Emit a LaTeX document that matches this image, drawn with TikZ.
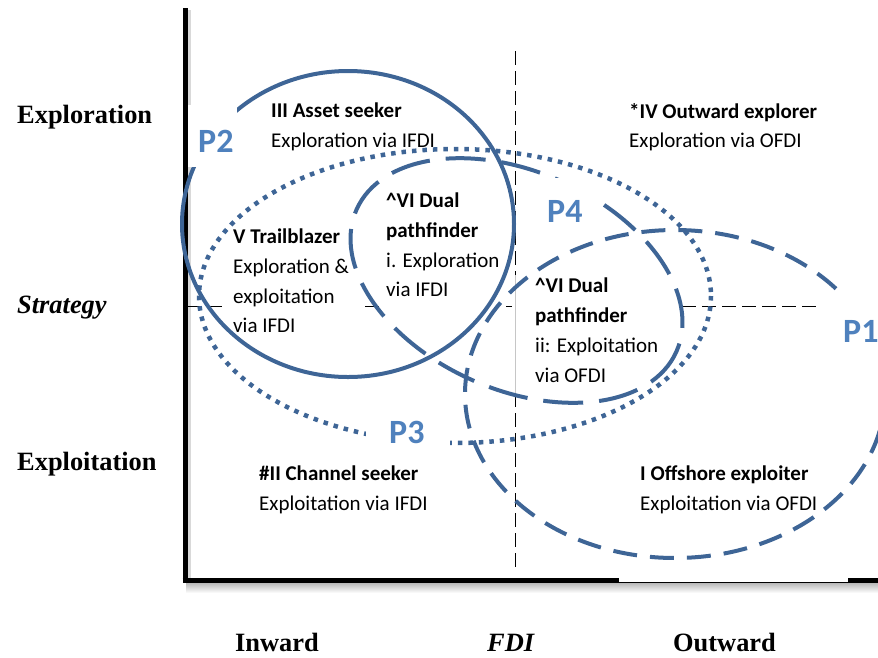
\documentclass[tikz,border=0pt]{standalone}
\usepackage{fontspec}
\setmainfont{Liberation Serif}
\newfontfamily\calfont{Carlito}
\definecolor{ellc}{RGB}{62,101,150}
\definecolor{labc}{RGB}{79,129,189}
\begin{document}
\begin{tikzpicture}[x=1pt,y=-1pt,
  ax/.style={font=\fontsize{26.4}{30}\selectfont\bfseries, anchor=base west, inner sep=0pt},
  axi/.style={ax, font=\fontsize{26.4}{30}\selectfont\bfseries\itshape},
  ttl/.style={font=\calfont\fontsize{21}{25}\selectfont\bfseries, anchor=base west, inner sep=0pt},
  txt/.style={font=\calfont\fontsize{21}{25}\selectfont, anchor=base west, inner sep=0pt},
  plab/.style={font=\calfont\fontsize{34}{38}\selectfont\bfseries, text=labc, anchor=base west, inner sep=0pt},
  ring/.style={draw=ellc, line width=4pt},
  refline/.style={draw=black, line width=1pt, dash pattern=on 14pt off 6pt},
  ]
\useasboundingbox (0,0) rectangle (878,657);
\clip (0,0) rectangle (878,657);
% axes shadows
\fill[gray!30] (187.5,10) rectangle (191,583);
\shade[top color=gray!55, bottom color=white] (186,583) rectangle (878,593);
% axes
\draw[line width=5pt] (185,8) -- (185,583);
\draw[line width=5pt] (182.5,580.5) -- (878,580.5);
\fill[white] (619,577.5) rectangle (848,581.8);
% reference dashed lines
\draw[refline] (515.5,51) -- (515.5,275);
\draw[gray!45, line width=0.8pt] (515.5,275) -- (515.5,393);
\draw[refline] (515.5,393) -- (515.5,572);
\draw[refline] (188,306) -- (225,306);
\draw[refline] (365,306) -- (379,306);
\draw[refline] (506,306) -- (512,306);
\draw[refline] (682,306) -- (820,306);
% ellipses
\draw[ring, line width=4.5pt, dash pattern=on 4.5pt off 6pt] (455,296) ellipse [x radius=256, y radius=147];
\draw[ring] (348,224) ellipse [x radius=166, y radius=153];
\draw[ring, dash pattern=on 40pt off 16pt, rotate around={-23.9:(516.5,280.5)}] (516.5,280.5) ellipse [x radius=175, y radius=109];
\draw[ring, dash pattern=on 24pt off 13pt] (675,394) ellipse [x radius=210, y radius=164];
% label boxes
\fill[white] (187.5,105) rectangle (237,167);
\fill[white] (552,178) rectangle (593,230);
\fill[white] (366,414) rectangle (450,452);
\fill[white] (838,295) rectangle (878,377);
\node[plab] (p2) at (198,152) {P2};
\node[plab] (p4) at (547,222) {P4};
\node[plab] (p3) at (389,443) {P3};
\node[plab] (p1) at (843,342) {P1};
% axis labels
\node[ax] (yhi) at (17,123) {Exploration};
\node[axi] (ymid) at (17,313) {Strategy};
\node[ax] (ylo) at (17,470) {Exploitation};
\node[ax] (xin) at (235,651) {Inward};
\node[axi] (xmid) at (487,651) {FDI};
\node[ax] (xout) at (673,651) {Outward};
% quadrant texts
\node[ttl] (t3a) at (271,117) {III Asset seeker};
\node[txt] (t3b) at (271,147) {Exploration via IFDI};
\node[ttl] (t4a) at (629,118) {*IV Outward explorer};
\node[txt] (t4b) at (629,147) {Exploration via OFDI};
\node[ttl] (t5a) at (233,243) {V Trailblazer};
\node[txt] (t5b) at (233,273) {Exploration \&};
\node[txt] (t5c) at (233,303) {exploitation};
\node[txt] (t5d) at (233,332) {via IFDI};
\node[ttl] (t6a) at (386,207) {\textasciicircum VI Dual};
\node[ttl] (t6b) at (386,237) {pathfinder};
\node[txt] (t6c) at (386,267) {i. Exploration};
\node[txt] (t6d) at (386,296) {via IFDI};
\node[ttl] (t7a) at (535,292) {\textasciicircum VI Dual};
\node[ttl] (t7b) at (535,322) {pathfinder};
\node[txt] (t7c) at (535,352) {ii: Exploitation};
\node[txt] (t7d) at (535,382) {via OFDI};
\node[ttl] (t2a) at (259,480) {\#II Channel seeker};
\node[txt] (t2b) at (259,510) {Exploitation via IFDI};
\node[ttl] (t1a) at (640,480) {I Offshore exploiter};
\node[txt] (t1b) at (640,510) {Exploitation via OFDI};
\end{tikzpicture}
\end{document}
